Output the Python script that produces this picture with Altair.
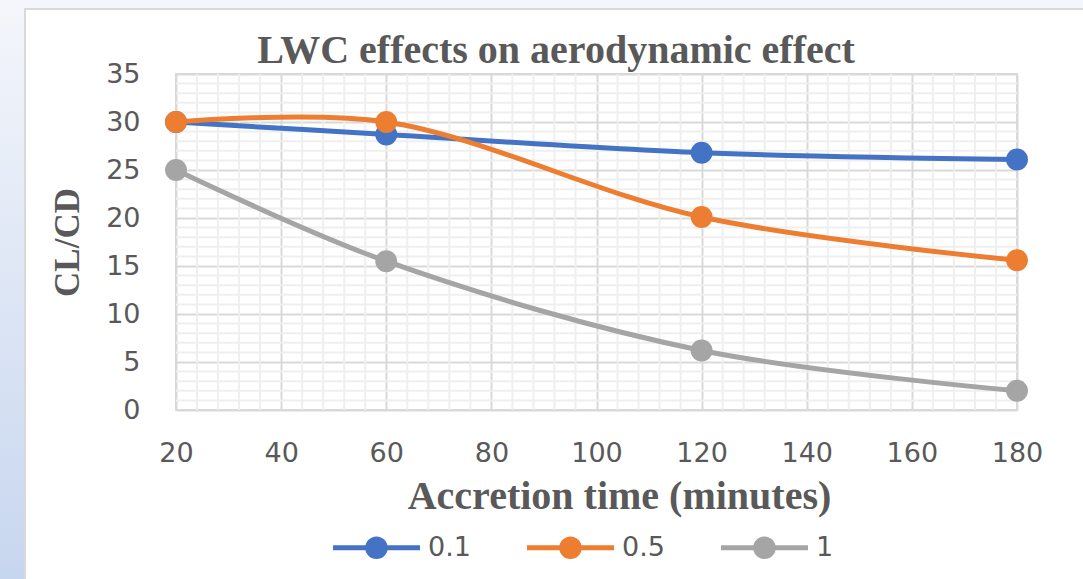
import altair as alt
import pandas as pd

# Accretion time (minutes) and CL/CD for each liquid water content
minutes = [20, 60, 120, 180]
lwc_levels = ["0.1", "0.5", "1"]
cl_cd_lwc_01 = [30.0, 28.7, 26.8, 26.1]
cl_cd_lwc_05 = [30.0, 30.0, 20.1, 15.6]
cl_cd_lwc_1 = [25.0, 15.5, 6.2, 2.0]

x_ticks = [20, 40, 60, 80, 100, 120, 140, 160, 180]
y_ticks = [0, 5, 10, 15, 20, 25, 30, 35]
x_minor = [v for v in range(20, 181, 4) if v % 20 != 0]
y_minor = [v for v in range(0, 36) if v % 5 != 0]

colors = ["#4472C4", "#ED7D31", "#A5A5A5"]
text_grey = "#595959"
chart_title = "LWC effects on aerodynamic effect"

rows = []
for lvl, series in zip(lwc_levels, [cl_cd_lwc_01, cl_cd_lwc_05, cl_cd_lwc_1]):
    for t, v in zip(minutes, series):
        rows.append({"time": t, "clcd": v, "lwc": lvl})
df = pd.DataFrame(rows)

W, H = 841, 336
PAD = {"left": 176, "top": 74, "right": 66, "bottom": 169}

x_scale = alt.Scale(domain=[20, 180], nice=False)
y_scale = alt.Scale(domain=[0, 35], nice=False)
color_scale = alt.Scale(domain=lwc_levels, range=colors)

x_axis = alt.Axis(
    values=x_ticks, grid=True, gridColor="#d9d9d9", gridWidth=2,
    domain=False, ticks=False, tickSize=0,
    labelFont="DejaVu Sans", labelFontSize=27, labelColor=text_grey,
    labelPadding=51, labelBaseline="alphabetic", labelFlush=False,
    labelOverlap=False,
    title="Accretion time (minutes)", titleFont="Liberation Serif",
    titleFontSize=40, titleFontWeight="bold", titleColor=text_grey,
    titleX=443, titleY=98, titleAlign="center", titleBaseline="alphabetic",
)
y_axis = alt.Axis(
    values=y_ticks, grid=True, gridColor="#d9d9d9", gridWidth=2,
    domain=False, ticks=False, tickSize=0,
    labelFont="DejaVu Sans", labelFontSize=27, labelColor=text_grey,
    labelPadding=36, labelBaseline="middle", labelFlush=False,
    labelOverlap=False,
    title="CL/CD", titleFont="Liberation Serif", titleFontSize=35,
    titleFontWeight="bold", titleColor=text_grey, titleAngle=270,
    titleX=-109, titleY=168, titleAlign="center", titleBaseline="middle",
)

# Legend glyph: a short line with a marker in the middle
legend_symbol = (
    "M-1,-0.06H1V0.06H-1Z "
    "M0.26,0A0.26,0.26 0 1,1 -0.26,0A0.26,0.26 0 1,1 0.26,0Z"
)
legend = alt.Legend(
    title=None, orient="none", legendX=157, legendY=430,
    direction="horizontal", symbolType=legend_symbol,
    symbolSize=7569, symbolStrokeWidth=0, symbolOpacity=1,
    labelFont="DejaVu Sans", labelFontSize=27, labelColor=text_grey,
    labelOffset=8, columnPadding=56, padding=0,
)

one = pd.DataFrame({"k": [0]})

# Pale blue frame around the white chart panel
left_strip = alt.Chart(one).mark_rect(
    color=alt.Gradient(
        gradient="linear", x1=0, y1=0, x2=0, y2=1,
        stops=[alt.GradientStop(offset=0, color="#f4f6fb"),
               alt.GradientStop(offset=1, color="#c7d6ef")],
    )
).encode(x=alt.value(-PAD["left"]), x2=alt.value(-152),
         y=alt.value(-PAD["top"]), y2=alt.value(H + PAD["bottom"]))
top_strip = alt.Chart(one).mark_rect(color="#f4f6fb").encode(
    x=alt.value(-152), x2=alt.value(W + PAD["right"]),
    y=alt.value(-PAD["top"]), y2=alt.value(-66))
panel_left = alt.Chart(one).mark_rule(color="#d9d9d9", strokeWidth=2).encode(
    x=alt.value(-151), y=alt.value(-66), y2=alt.value(H + PAD["bottom"]))
panel_top = alt.Chart(one).mark_rule(color="#d9d9d9", strokeWidth=2).encode(
    x=alt.value(-151), x2=alt.value(W + PAD["right"]), y=alt.value(-65))

# Chart title
title_text = alt.Chart(one).mark_text(
    font="Liberation Serif", fontSize=40, fontWeight="bold", color=text_grey,
    align="center", baseline="alphabetic",
).encode(x=alt.value(380), y=alt.value(-11), text=alt.value(chart_title))

# Minor gridlines
minor_x = alt.Chart(pd.DataFrame({"time": x_minor})).mark_rule(
    color="#efefef", strokeWidth=2).encode(
    x=alt.X("time:Q", scale=x_scale, axis=x_axis))
minor_y = alt.Chart(pd.DataFrame({"clcd": y_minor})).mark_rule(
    color="#efefef", strokeWidth=2).encode(
    y=alt.Y("clcd:Q", scale=y_scale, axis=y_axis))

x_enc = alt.X("time:Q", scale=x_scale, axis=x_axis)
y_enc = alt.Y("clcd:Q", scale=y_scale, axis=y_axis)

lines = alt.Chart(df).mark_line(strokeWidth=5, interpolate="catmull-rom").encode(
    x=x_enc, y=y_enc,
    color=alt.Color("lwc:N", scale=color_scale, legend=legend),
    detail="lwc:N",
)
points = alt.Chart(df).mark_point(filled=True, size=480, opacity=1).encode(
    x=x_enc, y=y_enc,
    color=alt.Color("lwc:N", scale=color_scale, legend=legend),
)

chart = alt.layer(
    left_strip, top_strip, panel_left, panel_top, title_text,
    minor_x, minor_y, lines, points
).properties(
    width=W, height=H,
    padding=PAD,
    autosize=alt.AutoSizeParams(type="none"),
).configure(background="white").configure_view(
    stroke="#d9d9d9", strokeWidth=2
)

chart.save("out.html", embed_options={"renderer": "svg", "actions": False})
